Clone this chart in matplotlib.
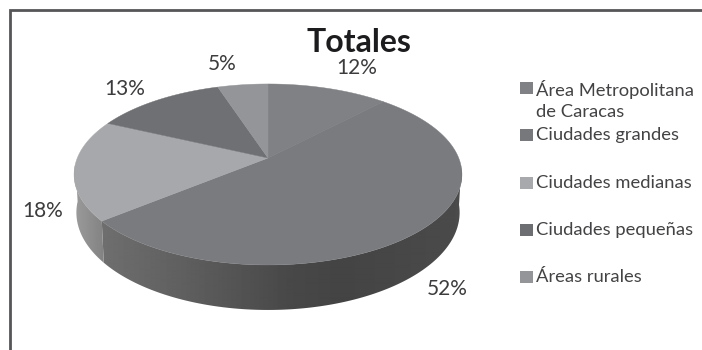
import numpy as np
import matplotlib
matplotlib.use("Agg")
import matplotlib.pyplot as plt
from matplotlib.patches import Polygon, Rectangle

plt.rcParams['font.family'] = ['Lato', 'DejaVu Sans']

# datos
categorias = ["Área Metropolitana\nde Caracas", "Ciudades grandes", "Ciudades medianas",
              "Ciudades pequeñas", "Áreas rurales"]
valores = [12, 52, 18, 13, 5]
colores = ["#808184", "#7a7b7f", "#a7a8ab", "#6f7073", "#939598"]
colores_ley = ["#808184", "#77787b", "#a7a9ac", "#6d6e71", "#939598"]
etiqueta_xy = [(357, 68), (447, 289), (43, 211), (125, 89), (222, 64)]

# parametros de la perspectiva del disco
cx, cy = 268, 158
A, B, k = 190.7, 87.5, 0.182
D = 36.8


def proyecta(theta):
    # theta en radianes, 0 arriba y sentido horario
    u, v = np.sin(theta), np.cos(theta)
    w = 1 + k * v
    return cx + A * u / w, cy - B * v / w


def proyecta_base(theta):
    x, y = proyecta(theta)
    w = 1 + k * np.cos(theta)
    return cx + (x - cx) * 0.988, y + D / w


def pared(t0, t1, grad_x, grad_g):
    # tramo de pared lateral con degradado horizontal
    t = np.linspace(t0, t1, 200)
    xs, ys = proyecta(t)
    bx, by = proyecta_base(t)
    pts = list(zip(xs, ys)) + list(zip(bx[::-1], by[::-1]))
    x_img = np.arange(60, 480)
    img = np.interp(x_img, grad_x, grad_g)[None, :] / 255
    im = ax.imshow(img, extent=(60, 480, 330, 90), cmap="gray", vmin=0, vmax=1,
                   aspect="auto", interpolation="bilinear")
    im.set_clip_path(Polygon(pts, transform=ax.transData))


fig = plt.figure(figsize=(7.02, 3.5), dpi=100)
ax = fig.add_axes([0, 0, 1, 1])

# marco: solo arriba e izquierda
ax.plot([9.5, 9.5, 702], [350, 9.5, 9.5], color="#555557", lw=2, solid_joinstyle="miter")

# angulos de inicio y fin de cada sector
fin = np.cumsum(valores) / sum(valores) * 2 * np.pi
ini = np.concatenate([[0], fin[:-1]])

# pared lateral
pared(np.radians(96), fin[1], [95, 180, 290, 340, 400, 460],
      [0x70, 0x60, 0x48, 0x44, 0x47, 0x4b])
pared(fin[1], np.radians(266), [74, 102], [0x9c, 0x84])

# cara superior
for i in range(len(valores)):
    t = np.linspace(ini[i], fin[i], 120)
    xs, ys = proyecta(t)
    pts = [(cx, cy)] + list(zip(xs, ys))
    ax.add_patch(Polygon(pts, facecolor=colores[i], edgecolor=colores[i], lw=0.3))

# porcentajes
for v, (x, y) in zip(valores, etiqueta_xy):
    ax.text(x, y, f"{v}%", ha="center", va="center", fontsize=15, color="#3c3c3e")

ax.text(359, 42, "Totales", ha="center", va="center", fontsize=23, fontweight="bold",
        color="#1c1c1e")

# leyenda
ley_y0, ley_paso = 88, 47.3
for i, cat in enumerate(categorias):
    y = ley_y0 + i * ley_paso
    ax.add_patch(Rectangle((520, y - 6), 12.5, 12, facecolor=colores_ley[i], edgecolor="none"))
    ax.text(536, y - 8, cat, ha="left", va="top", fontsize=13.2, color="#434345",
            linespacing=1.4)

ax.set_xlim(0, 702)
ax.set_ylim(350, 0)
ax.axis("off")

fig.savefig("out.png", dpi=100, facecolor="white")
